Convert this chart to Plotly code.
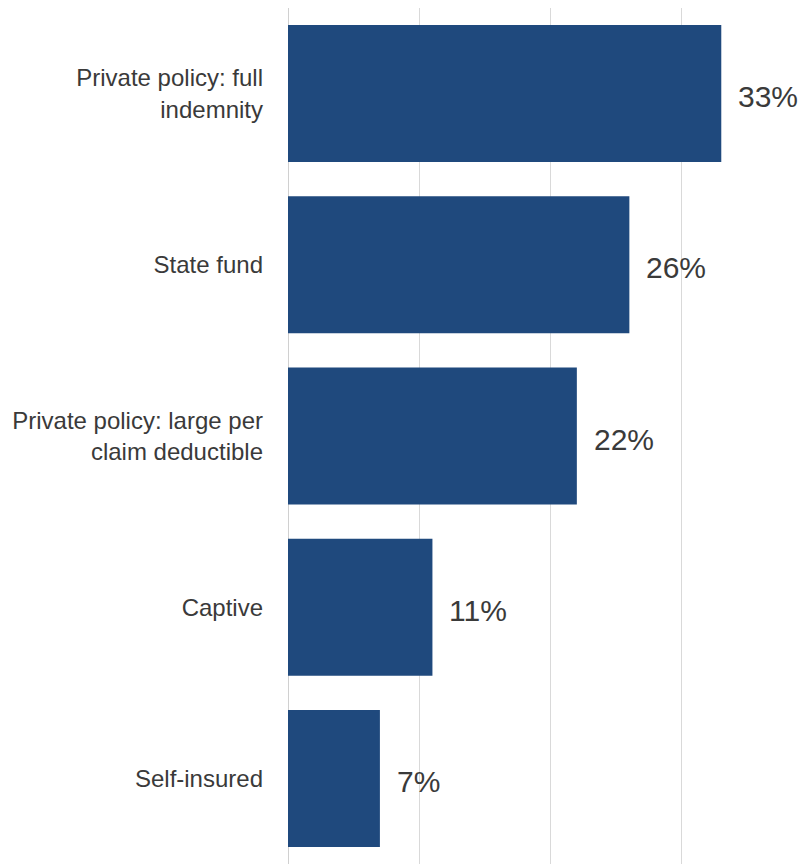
import plotly.graph_objects as go

categories = [
    "Private policy: full<br>indemnity",
    "State fund",
    "Private policy: large per<br>claim deductible",
    "Captive",
    "Self-insured",
]
shares = [33, 26, 22, 11, 7]
value_labels = ["33%", "26%", "22%", "11%", "7%"]

BAR_COLOR = "#1F497D"
TEXT_COLOR = "#3a3a3a"

fig = go.Figure(
    go.Bar(
        x=shares,
        y=categories,
        orientation="h",
        marker=dict(color=BAR_COLOR, line=dict(width=0)),
        hoverinfo="skip",
    )
)

for cat, val, lab in zip(categories, shares, value_labels):
    fig.add_annotation(
        x=val, y=cat, text=lab, showarrow=False,
        xanchor="left", yanchor="middle", xshift=15, yshift=-3,
        font=dict(family="Liberation Sans, Arial, sans-serif",
                  size=30, color=TEXT_COLOR),
    )

fig.update_layout(
    width=804, height=864,
    margin=dict(l=288, r=0, t=8, b=0),
    paper_bgcolor="white", plot_bgcolor="white",
    bargap=0.2,
    showlegend=False,
    font=dict(family="Liberation Sans, Arial, sans-serif", color=TEXT_COLOR),
)
fig.update_xaxes(
    range=[0, 39.3], showticklabels=False, ticks="",
    tickvals=[10, 20, 30], showgrid=True, gridcolor="#d9d9d9", gridwidth=1,
    zeroline=True, zerolinecolor="#d0d0d0", zerolinewidth=1,
)
fig.update_yaxes(
    autorange="reversed", showgrid=False, zeroline=False, ticks="",
    tickfont=dict(size=24, color=TEXT_COLOR), ticklabelstandoff=24,
)

fig.write_html("out.html")
